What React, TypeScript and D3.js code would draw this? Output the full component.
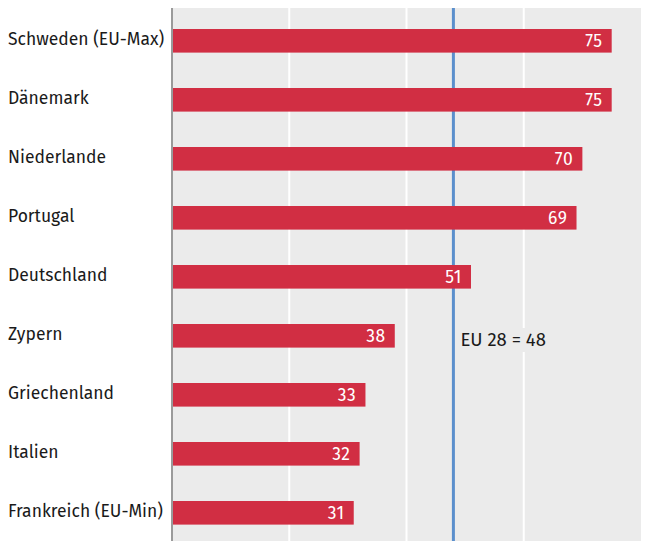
import { useEffect, useRef } from "react";
import * as d3 from "d3";

const countries = [
  "Schweden (EU-Max)",
  "Dänemark",
  "Niederlande",
  "Portugal",
  "Deutschland",
  "Zypern",
  "Griechenland",
  "Italien",
  "Frankreich (EU-Min)",
];
const values = [75, 75, 70, 69, 51, 38, 33, 32, 31];
const gridTicks = [20, 40, 60];
const euAverage = 48;
const euLabel = "EU 28 = 48";

const W = 646;
const H = 541;
const FONT = "'Fira Sans', 'Noto Sans', 'Open Sans', sans-serif";

export default function App() {
  const svgRef = useRef<SVGSVGElement>(null);

  useEffect(() => {
    if (!svgRef.current) return;
    const svg = d3.select(svgRef.current);
    svg.selectAll("*").remove();

    const plot = { left: 172, right: 641, top: 8, bottom: 541 };

    const x = d3.scaleLinear().domain([0, 80]).range([plot.left, plot.right]);
    const y = d3
      .scaleBand<string>()
      .domain(countries)
      .range([29, 29 + 8 * 59 + 23.6])
      .paddingInner(0.6)
      .paddingOuter(0);

    // background
    svg.append("rect")
      .attr("x", plot.left)
      .attr("y", plot.top)
      .attr("width", plot.right - plot.left)
      .attr("height", plot.bottom - plot.top)
      .attr("fill", "#ebebeb");

    // white gridlines
    svg.selectAll("line.grid")
      .data(gridTicks)
      .join("line")
      .attr("class", "grid")
      .attr("x1", (d) => x(d))
      .attr("x2", (d) => x(d))
      .attr("y1", plot.top)
      .attr("y2", plot.bottom)
      .attr("stroke", "#ffffff")
      .attr("stroke-width", 2);

    // EU label with background (behind bars)
    const lbl = svg.append("text")
      .attr("x", x(euAverage) + 7)
      .attr("y", 346)
      .attr("fill", "#1a1a1a")
      .attr("font-size", "18.5px")
      .attr("font-family", FONT)
      .text(euLabel);
    const bb = (lbl.node() as SVGTextElement).getBBox();
    svg.insert("rect", "text")
      .attr("x", bb.x - 1)
      .attr("y", bb.y - 1)
      .attr("width", bb.width + 4)
      .attr("height", bb.height + 2)
      .attr("fill", "#ebebeb");

    // EU average line
    svg.append("line")
      .attr("x1", x(euAverage))
      .attr("x2", x(euAverage))
      .attr("y1", plot.top)
      .attr("y2", plot.bottom)
      .attr("stroke", "#5b8fcc")
      .attr("stroke-width", 3);

    const data = countries.map((c, i) => ({ c, v: values[i] }));

    // bars
    svg.selectAll("rect.bar")
      .data(data)
      .join("rect")
      .attr("class", "bar")
      .attr("x", x(0))
      .attr("y", (d) => y(d.c) || 0)
      .attr("width", (d) => x(d.v) - x(0))
      .attr("height", y.bandwidth())
      .attr("fill", "#d12e43");

    // value labels
    svg.selectAll("text.val")
      .data(data)
      .join("text")
      .attr("class", "val")
      .attr("x", (d) => x(d.v) - 9)
      .attr("y", (d) => (y(d.c) || 0) + y.bandwidth() / 2 + 6.5)
      .attr("text-anchor", "end")
      .attr("fill", "#ffffff")
      .attr("font-size", "17.5px")
      .attr("font-weight", "400")
      .attr("letter-spacing", "0.6px")
      .attr("font-family", FONT)
      .text((d) => d.v);

    // category labels
    svg.selectAll("text.cat")
      .data(data)
      .join("text")
      .attr("class", "cat")
      .attr("x", 8)
      .attr("y", (d) => (y(d.c) || 0) + y.bandwidth() / 2 + 4.5)
      .attr("fill", "#1a1a1a")
      .attr("font-size", "17.5px")
      .attr("font-family", FONT)
      .text((d) => d.c);

    // left axis line
    svg.append("line")
      .attr("x1", plot.left)
      .attr("x2", plot.left)
      .attr("y1", plot.top)
      .attr("y2", plot.bottom)
      .attr("stroke", "#9a9a9a")
      .attr("stroke-width", 2);
  }, []);

  return (
    <svg
      ref={svgRef}
      width={W}
      height={H}
      style={{ position: "absolute", left: 0, top: 0, background: "#ffffff" }}
    />
  );
}
